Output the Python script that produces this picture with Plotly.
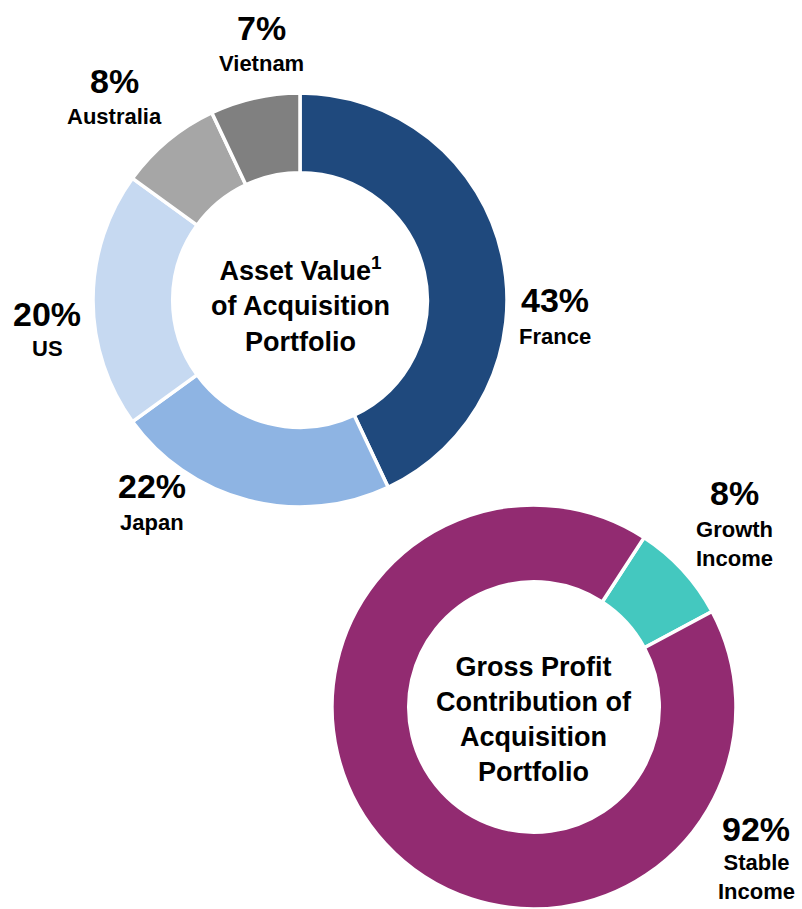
import plotly.graph_objects as go

W, H = 802, 909

# ---- data ----
asset_labels = ["France", "Japan", "US", "Australia", "Vietnam"]
asset_values = [43, 22, 20, 8, 7]
asset_colors = ["#1F497D", "#8EB4E3", "#C6D9F1", "#A6A6A6", "#808080"]

gp_labels = ["Growth<br>Income", "Stable<br>Income"]
gp_values = [8, 92]
gp_colors = ["#44C8BF", "#922B71"]

asset_title = "Asset Value<sup>1</sup><br>of Acquisition<br>Portfolio"
gp_title = "Gross Profit<br>Contribution of<br>Acquisition<br>Portfolio"

FONT = "Liberation Sans, Arial, sans-serif"


def px(x):
    return x / W


def py(y):
    return 1 - y / H


fig = go.Figure()
fig.add_trace(go.Pie(
    labels=asset_labels, values=asset_values, sort=False,
    direction="clockwise", rotation=0, hole=0.615,
    marker=dict(colors=asset_colors, line=dict(color="white", width=3.5)),
    textinfo="none", hoverinfo="label+percent",
    domain=dict(x=[px(93), px(507)], y=[py(507), py(93)]),
    showlegend=False,
))
fig.add_trace(go.Pie(
    labels=gp_labels, values=gp_values, sort=False,
    direction="clockwise", rotation=33, hole=0.62,
    marker=dict(colors=gp_colors, line=dict(color="white", width=3.5)),
    textinfo="none", hoverinfo="label+percent",
    domain=dict(x=[px(332), px(736)], y=[0, py(505)]),
    showlegend=False,
))

annotations = []

# label positions (pixel centers): pct line, name line
asset_pos = [(555, 300, 336), (152, 486, 522), (47, 314, 348), (114, 81, 116), (261, 28, 63)]
for lab, val, (x, yp, yn) in zip(asset_labels, asset_values, asset_pos):
    annotations.append(dict(x=px(x), y=py(yp), text=f"<b>{val}%</b>", font=dict(size=34)))
    annotations.append(dict(x=px(x), y=py(yn), text=f"<b>{lab}</b>", font=dict(size=22)))

gp_pos = [(734, 493, 544), (756, 829, 877)]
for lab, val, (x, yp, yn) in zip(gp_labels, gp_values, gp_pos):
    annotations.append(dict(x=px(x), y=py(yp), text=f"<b>{val}%</b>", font=dict(size=34)))
    annotations.append(dict(x=px(x), y=py(yn), text=f"<b>{lab}</b>", font=dict(size=22)))

annotations.append(dict(x=px(300), y=py(304), text=f"<b>{asset_title}</b>", font=dict(size=27)))
annotations.append(dict(x=px(534), y=py(719), text=f"<b>{gp_title}</b>", font=dict(size=27)))

for a in annotations:
    a.update(xref="paper", yref="paper", showarrow=False, xanchor="center", yanchor="middle")
    a["font"].update(family=FONT, color="#000000")

fig.update_layout(
    width=W, height=H, margin=dict(l=0, r=0, t=0, b=0),
    paper_bgcolor="white", plot_bgcolor="white",
    annotations=annotations,
)

fig.write_html(
    "out.html",
    config={"displayModeBar": False},
    post_script="document.body.style.margin='0';document.body.style.overflow='hidden';",
)
